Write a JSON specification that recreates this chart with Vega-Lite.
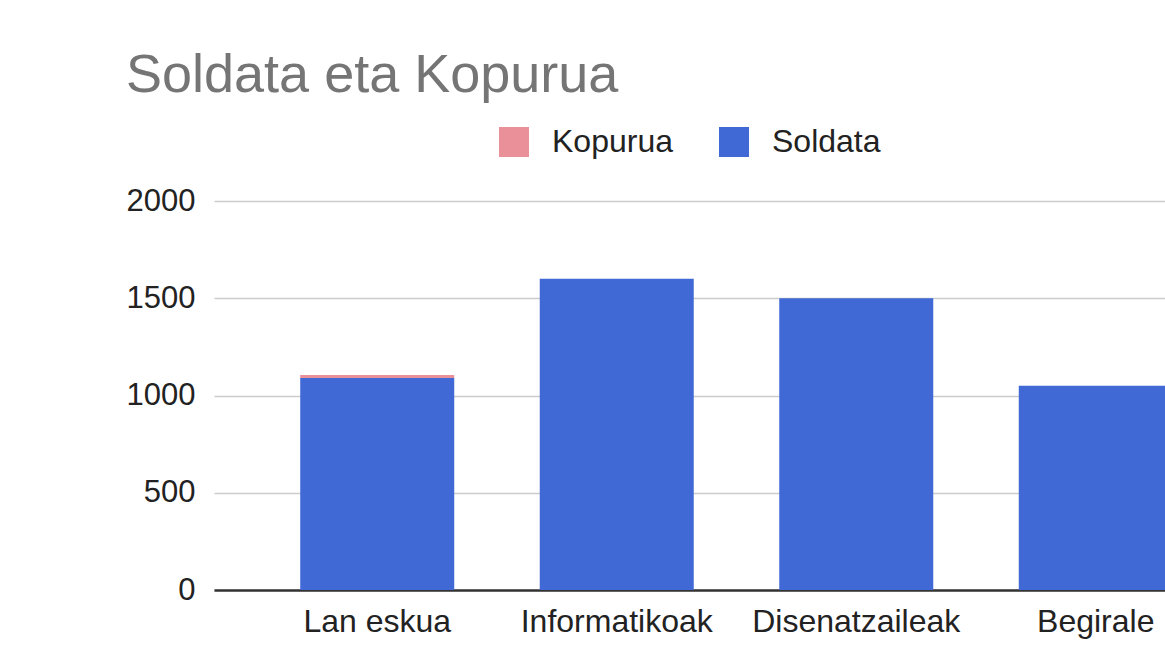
{
  "$schema": "https://vega.github.io/schema/vega-lite/v6.json",
  "autosize": {"type": "none"},
  "padding": {"left": 214, "top": 201, "right": 0, "bottom": 57},
  "width": 951,
  "height": 389,
  "background": "white",
  "title": {
    "text": "Soldata eta Kopurua",
    "anchor": "start",
    "frame": "group",
    "dx": -88,
    "offset": 23,
    "font": "Liberation Sans",
    "fontSize": 54,
    "fontWeight": "normal",
    "color": "#757575"
  },
  "data": {
    "values": [
      {"lanbidea": "Lan eskua", "series": "Soldata", "value": 1090},
      {"lanbidea": "Lan eskua", "series": "Kopurua", "value": 15},
      {"lanbidea": "Informatikoak", "series": "Soldata", "value": 1600},
      {"lanbidea": "Disenatzaileak", "series": "Soldata", "value": 1500},
      {"lanbidea": "Begirale", "series": "Soldata", "value": 1050}
    ]
  },
  "mark": {"type": "bar"},
  "encoding": {
    "x": {
      "field": "lanbidea",
      "type": "nominal",
      "sort": null,
      "scale": {"range": [0, 1045], "paddingInner": 0.357, "paddingOuter": 0.36},
      "axis": {
        "title": null,
        "labelAngle": 0,
        "labelFont": "Liberation Sans",
        "labelFontSize": 32,
        "labelColor": "#222222",
        "labelPadding": 16,
        "labelLimit": 0,
        "ticks": false,
        "domainColor": "#333333",
        "domainWidth": 2.5,
        "grid": false
      }
    },
    "y": {
      "field": "value",
      "type": "quantitative",
      "stack": "zero",
      "scale": {"domain": [0, 2000]},
      "axis": {
        "title": null,
        "values": [0, 500, 1000, 1500, 2000],
        "labelFont": "Liberation Sans",
        "labelFontSize": 31,
        "labelColor": "#222222",
        "labelPadding": 19,
        "ticks": false,
        "domain": false,
        "gridColor": "#cccccc",
        "gridWidth": 1.5,
        "format": "d"
      }
    },
    "color": {
      "field": "series",
      "type": "nominal",
      "scale": {"domain": ["Kopurua", "Soldata"], "range": ["#ea9098", "#4169d6"]},
      "legend": {
        "title": null,
        "orient": "none",
        "direction": "horizontal",
        "legendX": 284,
        "legendY": -75,
        "symbolType": "square",
        "symbolSize": 900,
        "symbolStrokeWidth": 0,
        "symbolOpacity": 1,
        "labelFont": "Liberation Sans",
        "labelFontSize": 32,
        "labelColor": "#222222",
        "labelOffset": 22,
        "columnPadding": 45
      }
    },
    "order": {"field": "series", "sort": "descending"}
  },
  "config": {"view": {"stroke": null}}
}
